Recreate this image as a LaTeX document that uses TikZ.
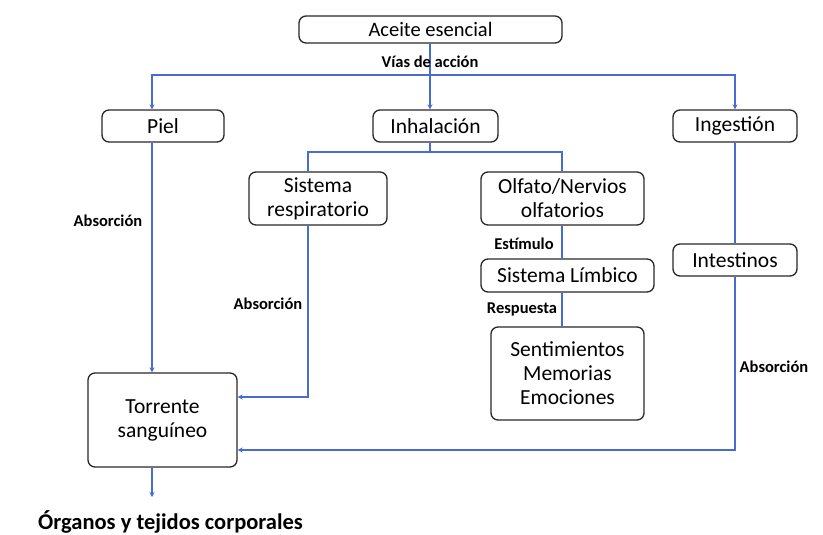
\documentclass[tikz,border=0pt]{standalone}
\usepackage{fontspec}
\setmainfont{Carlito}
\usetikzlibrary{arrows.meta}
\definecolor{conn}{RGB}{72,108,210}
\definecolor{boxline}{RGB}{40,40,40}
\tikzset{
  box/.style={draw=boxline, line width=1.3pt, rounded corners=7pt, align=center,
              inner sep=0pt, font=\fontsize{21.5}{24}\selectfont},
  conline/.style={draw=conn, line width=1.8pt},
  arr/.style={conline, -{Stealth[length=5pt,width=5pt]}},
  lab/.style={font=\fontsize{16.5}{18}\selectfont\bfseries, inner sep=1pt},
}
\begin{document}
\begin{tikzpicture}[x=1pt,y=-1pt]
\useasboundingbox (0,0) rectangle (823,535);
\fill[white] (0,0) rectangle (823,535);
% nodes
\node[box, minimum width=263pt, minimum height=27pt, font=\fontsize{20.5}{24}\selectfont] (aceite) at (430.5,29.5) {Aceite esencial};
\node[box, minimum width=122pt, minimum height=32pt] (piel) at (163,126) {Piel};
\node[box, minimum width=125pt, minimum height=32pt] (inhal) at (435.5,126) {Inhalación};
\node[box, minimum width=124pt, minimum height=32pt] (ingest) at (735,126) {Ingestión};
\node[box, minimum width=138pt, minimum height=53pt] (resp) at (318,198.5) {Sistema\\respiratorio};
\node[box, minimum width=163pt, minimum height=53pt] (olfato) at (562.5,198.5) {Olfato/Nervios\\olfatorios};
\node[box, minimum width=173pt, minimum height=33pt] (limbico) at (567.5,275.5) {Sistema Límbico};
\node[box, minimum width=153pt, minimum height=93pt] (sentim) at (567.5,373.5) {Sentimientos\\Memorias\\Emociones};
\node[box, minimum width=124pt, minimum height=32pt] (intest) at (735,260) {Intestinos};
\node[box, minimum width=149pt, minimum height=94pt] (torr) at (162.5,420) {Torrente\\sanguíneo};
% helper coordinates
\coordinate (colP) at (152,0);
\coordinate (rowTop) at (0,75);
\coordinate (colI) at (430,0);
\coordinate (rowInh) at (0,152);
\coordinate (colR) at (308,0);
\coordinate (colO) at (562,0);
\coordinate (rowR) at (0,397);
\coordinate (rowG) at (0,450);
\coordinate (organos) at (152,497);
% connectors
\draw[arr] (aceite.south -| colI) -- (colI |- inhal.north);
\draw[arr] (colI |- rowTop) -| (colP |- piel.north);
\draw[arr] (colI |- rowTop) -| (ingest.north);
\draw[arr] (colP |- piel.south) -- (colP |- torr.north);
\draw[conline] (colI |- inhal.south) -- (colI |- rowInh);
\draw[conline] (colI |- rowInh) -| (colR |- resp.north);
\draw[conline] (colI |- rowInh) -| (colO |- olfato.north);
\draw[conline] (colO |- olfato.south) -- (colO |- limbico.north);
\draw[conline] (colO |- limbico.south) -- (colO |- sentim.north);
\draw[arr] (colR |- resp.south) |- (torr.east |- rowR);
\draw[conline] (ingest.south) -- (intest.north);
\draw[arr] (intest.south) |- (torr.east |- rowG);
\draw[arr] (colP |- torr.south) -- (organos);
% labels
\node[lab] (lvias) at (430,62) {Vías de acción};
\node[lab] (labs1) at (108,221) {Absorción};
\node[lab] (labs2) at (268,304) {Absorción};
\node[lab] (labs3) at (774,367) {Absorción};
\node[lab] (lest) at (524,244) {Estímulo};
\node[lab] (lres) at (522,309) {Respuesta};
\node[lab, anchor=west, font=\fontsize{22.5}{24}\selectfont\bfseries] (lorg) at (37,522) {Órganos y tejidos corporales};
\end{tikzpicture}
\end{document}
